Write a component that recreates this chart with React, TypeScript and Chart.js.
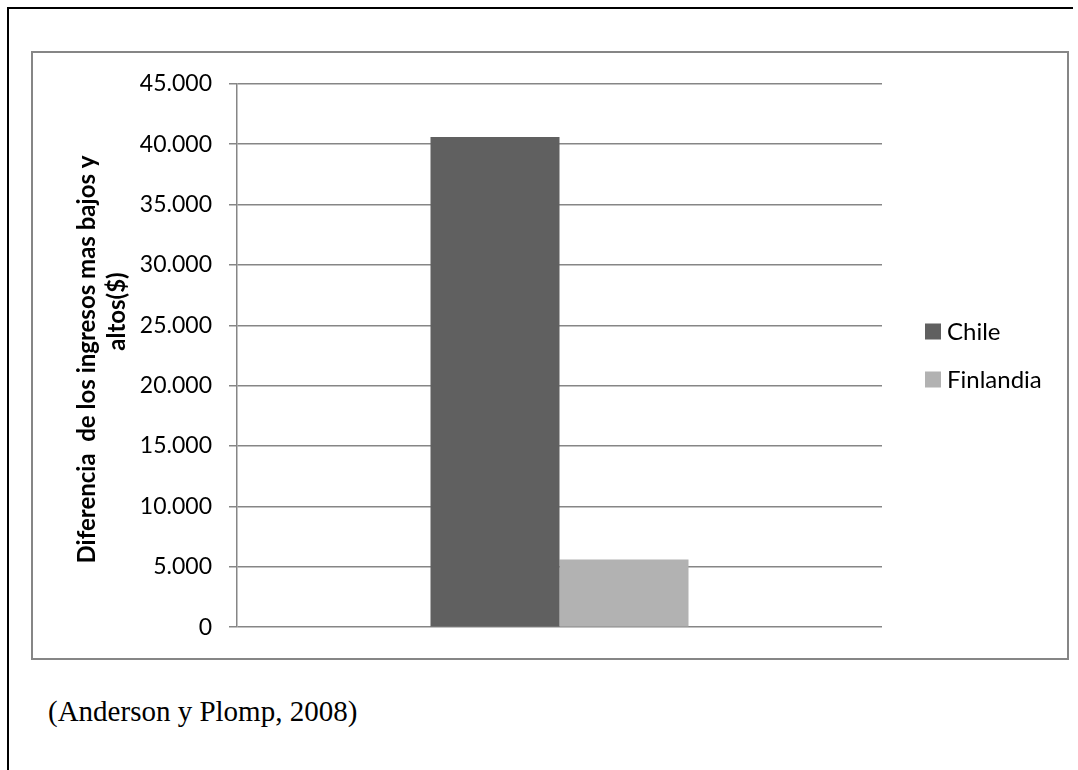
import React, { useEffect, useRef } from "react";
import { Chart, registerables } from "chart.js";

Chart.register(...registerables);

// Single unnamed category with one bar per country
const categories = [""];
const seriesNames = ["Chile", "Finlandia"];
const chileValues = [40600];
const finlandiaValues = [5600];
const seriesColors = ["#606060", "#b2b2b2"];

const yMin = 0;
const yMax = 45000;
const yStep = 5000;

const axisTitleLines = ["Diferencia  de los ingresos mas bajos y", "altos($)"];
const sourceNote = "(Anderson y Plomp, 2008)";

const sansFont = "Lato, 'Noto Sans', sans-serif";
const gridColor = "#868686";

// Thousands separated with a dot: 45000 -> "45.000"
const formatThousands = (v: number) =>
  String(Math.round(v)).replace(/\B(?=(\d{3})+(?!\d))/g, ".");

// Legend drawn to the right of the plot, vertically centred on it
const sideLegend = {
  id: "sideLegend",
  afterDraw(chart: any) {
    const { ctx, chartArea } = chart;
    const mid = (chartArea.top + chartArea.bottom) / 2;
    const sets = chart.data.datasets;
    const gap = 48;
    const x = chartArea.right + 43;
    ctx.save();
    ctx.font = `24px ${sansFont}`;
    ctx.textAlign = "left";
    ctx.textBaseline = "alphabetic";
    sets.forEach((ds: any, i: number) => {
      const cy = mid + (i - (sets.length - 1) / 2) * gap;
      ctx.fillStyle = ds.backgroundColor;
      ctx.fillRect(x, cy - 8, 16, 16);
      ctx.fillStyle = "#000000";
      ctx.fillText(ds.label, x + 22, cy + 8);
    });
    ctx.restore();
  },
};

// Rotated two-line title of the value axis; the wrapped second line sits
// a little toward the top end of the first one.
const valueAxisTitle = {
  id: "valueAxisTitle",
  afterDraw(chart: any) {
    const { ctx } = chart;
    const y = chart.scales.y;
    const midY = (y.top + y.bottom) / 2;
    const lineGap = 30;
    const wrapShift = [0, -48];
    ctx.save();
    ctx.font = `bold 24px ${sansFont}`;
    ctx.fillStyle = "#000000";
    ctx.textAlign = "center";
    ctx.textBaseline = "middle";
    axisTitleLines.forEach((line, i) => {
      ctx.save();
      ctx.translate(y.left + 54 + i * lineGap, midY + 4 + wrapShift[i]);
      ctx.rotate(-Math.PI / 2);
      ctx.fillText(line, 0, 0);
      ctx.restore();
    });
    ctx.restore();
  },
};

export default function App() {
  const canvasRef = useRef<HTMLCanvasElement | null>(null);

  useEffect(() => {
    if (!canvasRef.current) return;
    const chart = new Chart(canvasRef.current, {
      type: "bar",
      data: {
        labels: categories,
        datasets: [
          {
            label: seriesNames[0],
            data: chileValues,
            backgroundColor: seriesColors[0],
            borderWidth: 0,
          },
          {
            label: seriesNames[1],
            data: finlandiaValues,
            backgroundColor: seriesColors[1],
            borderWidth: 0,
          },
        ],
      },
      options: {
        animation: false,
        responsive: false,
        maintainAspectRatio: false,
        devicePixelRatio: 1,
        layout: { padding: { top: 29, bottom: 29, left: 0, right: 185 } },
        datasets: {
          bar: { categoryPercentage: 0.4, barPercentage: 1 },
        },
        plugins: {
          legend: { display: false },
          tooltip: { enabled: false },
          title: { display: false },
        },
        scales: {
          x: { display: false },
          y: {
            min: yMin,
            max: yMax,
            afterFit: (scale: any) => {
              scale.width = 204;
            },
            ticks: {
              stepSize: yStep,
              color: "#000000",
              padding: 17,
              font: { family: sansFont, size: 23 },
              callback: (v: any) => formatThousands(Number(v)),
            },
            grid: {
              color: gridColor,
              lineWidth: 1.5,
              tickLength: 8,
              tickColor: gridColor,
              drawOnChartArea: true,
            },
            border: { display: true, color: gridColor, width: 1.5 },
            title: { display: false },
          },
        },
      },
      plugins: [sideLegend, valueAxisTitle],
    });
    return () => chart.destroy();
  }, []);

  return (
    <div
      style={{
        position: "absolute",
        left: 0,
        top: 0,
        width: 1078,
        height: 770,
        overflow: "hidden",
        background: "#ffffff",
      }}
    >
      {/* page frame */}
      <div
        style={{
          position: "absolute",
          left: 7,
          top: 7,
          width: 1066,
          height: 763,
          boxSizing: "border-box",
          borderTop: "2px solid #000000",
          borderLeft: "2px solid #000000",
        }}
      />
      {/* chart frame */}
      <div
        style={{
          position: "absolute",
          left: 31,
          top: 51,
          width: 1038,
          height: 609,
          boxSizing: "border-box",
          border: `2px solid ${gridColor}`,
        }}
      />
      <canvas
        ref={canvasRef}
        width={1034}
        height={605}
        style={{ position: "absolute", left: 33, top: 53, width: 1034, height: 605 }}
      />
      <div
        style={{
          position: "absolute",
          left: 48,
          top: 697,
          fontFamily: "'Liberation Serif', 'Times New Roman', serif",
          fontSize: 29,
          lineHeight: "29px",
          color: "#000000",
          whiteSpace: "nowrap",
        }}
      >
        {sourceNote}
      </div>
    </div>
  );
}
